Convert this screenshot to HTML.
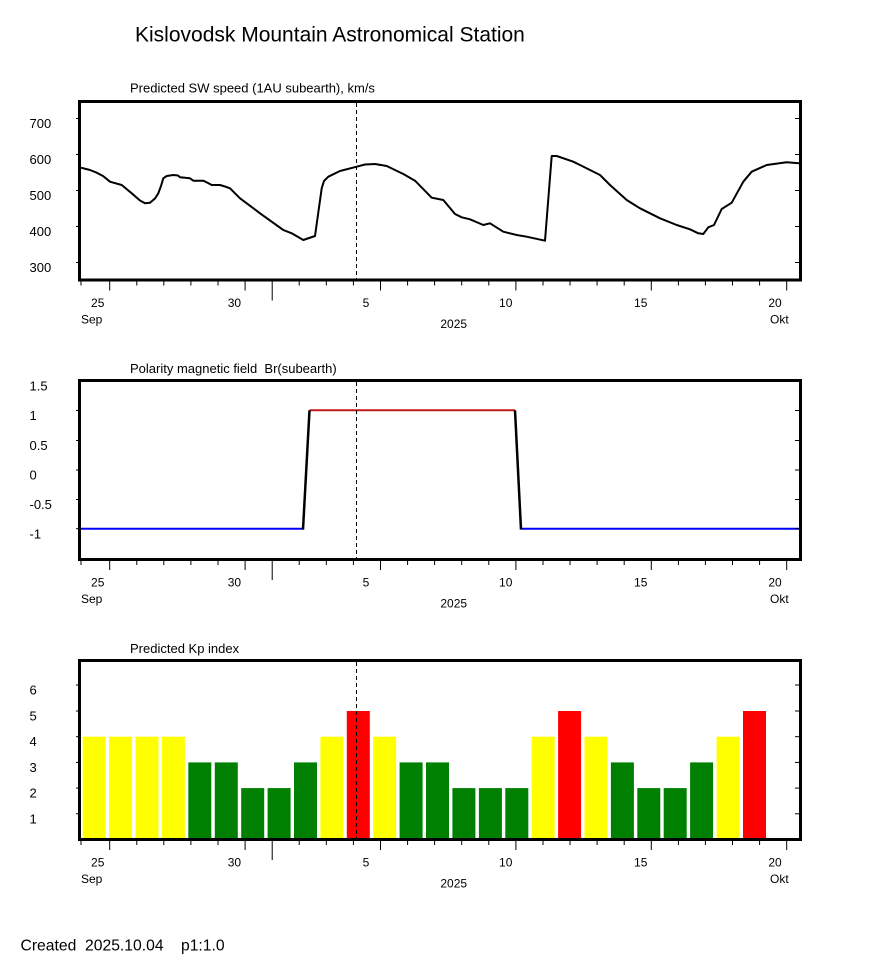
<!DOCTYPE html>
<html>
<head>
<meta charset="utf-8">
<style>
  html,body{margin:0;padding:0;background:#fff;}
  svg{display:block;}
  text{font-family:"Liberation Sans",Arial,sans-serif;fill:#000;}
</style>
</head>
<body>
<svg width="870" height="965" viewBox="0 0 870 965" xmlns="http://www.w3.org/2000/svg">
  <rect x="0" y="0" width="870" height="965" fill="#fff"/>

  <!-- Title -->
  <text x="135" y="41.5" font-size="21">Kislovodsk Mountain Astronomical Station</text>

  <!-- ================= PANEL 1 ================= -->
  <text x="130" y="92.5" font-size="13">Predicted SW speed (1AU subearth), km/s</text>
  <defs>
    <clipPath id="c1"><rect x="81" y="103" width="718" height="175.5"/></clipPath>
  </defs>
  <polyline clip-path="url(#c1)" fill="none" stroke="#000" stroke-width="2" stroke-linejoin="round" points="
    81,167.7 90,170 96.7,172.7 103,176 110,181.7 121.7,185 131.7,193.3 140,200.5 145,203.3 150,202.7 155,198.5
    158.3,193.3 161,186 163.3,178.3 166.7,176 173.3,175 178,175.5 180,177.3 190,178.3 193.3,180.7 203.3,180.7
    208,183 211.7,185 220,185 225,186.5 230,188.3 240,198.3 260,213.3 283.3,230 291.7,233.3 303.3,240 315,236
    321.7,188.3 324,181 328.3,176.7 340,171 356.7,166.7 365,164.5 375,164 386.7,166 403.3,174 415,180.7
    431.7,197.7 443.3,200 455,214 461.7,217.3 470,219.3 483.3,225 490,223.3 503.3,231.7 516.7,235 526.7,236.7
    545,240.7 551.7,156 556.7,156 573.3,161.7 580,165 600,175 610,185 626.7,200 640,208.3 660,218.3 676.7,225
    690,229.3 698.3,233.3 703.3,234 708.3,227.3 714,225 721.7,209 731.7,202.7 743.3,181.7 751.7,171.7
    766.7,165 786.7,162.3 800,163.3"/>
  <line x1="356.5" y1="103" x2="356.5" y2="278.5" stroke="#000" stroke-width="1" stroke-dasharray="4,3"/>
  <rect x="79.5" y="101.5" width="721" height="178.5" fill="none" stroke="#000" stroke-width="3"/>
  <!-- y ticks -->
  <g stroke="#000" stroke-width="1">
    <line x1="76" y1="118.5" x2="79" y2="118.5"/><line x1="795" y1="118.5" x2="799" y2="118.5"/>
    <line x1="76" y1="154.5" x2="79" y2="154.5"/><line x1="795" y1="154.5" x2="799" y2="154.5"/>
    <line x1="76" y1="190.5" x2="79" y2="190.5"/><line x1="795" y1="190.5" x2="799" y2="190.5"/>
    <line x1="76" y1="226.5" x2="79" y2="226.5"/><line x1="795" y1="226.5" x2="799" y2="226.5"/>
    <line x1="76" y1="262.5" x2="79" y2="262.5"/><line x1="795" y1="262.5" x2="799" y2="262.5"/>
  </g>
  <g font-size="13">
    <text x="29.5" y="128">700</text>
    <text x="29.5" y="164">600</text>
    <text x="29.5" y="200">500</text>
    <text x="29.5" y="236">400</text>
    <text x="29.5" y="272">300</text>
  </g>
  <g id="xt1" stroke="#000" stroke-width="1">
    <line x1="81" y1="281.5" x2="81" y2="285.5"/>
    <line x1="109.7" y1="281.5" x2="109.7" y2="290.5"/>
    <line x1="136.8" y1="281.5" x2="136.8" y2="285.5"/>
    <line x1="163.8" y1="281.5" x2="163.8" y2="285.5"/>
    <line x1="190.9" y1="281.5" x2="190.9" y2="285.5"/>
    <line x1="218" y1="281.5" x2="218" y2="285.5"/>
    <line x1="245.1" y1="281.5" x2="245.1" y2="290.5"/>
    <line x1="272.2" y1="281.5" x2="272.2" y2="300.5"/>
    <line x1="299.2" y1="281.5" x2="299.2" y2="285.5"/>
    <line x1="326.3" y1="281.5" x2="326.3" y2="285.5"/>
    <line x1="353.4" y1="281.5" x2="353.4" y2="285.5"/>
    <line x1="380.5" y1="281.5" x2="380.5" y2="290.5"/>
    <line x1="407.6" y1="281.5" x2="407.6" y2="285.5"/>
    <line x1="434.6" y1="281.5" x2="434.6" y2="285.5"/>
    <line x1="461.7" y1="281.5" x2="461.7" y2="285.5"/>
    <line x1="488.8" y1="281.5" x2="488.8" y2="285.5"/>
    <line x1="515.9" y1="281.5" x2="515.9" y2="290.5"/>
    <line x1="543" y1="281.5" x2="543" y2="285.5"/>
    <line x1="570" y1="281.5" x2="570" y2="285.5"/>
    <line x1="597.1" y1="281.5" x2="597.1" y2="285.5"/>
    <line x1="624.2" y1="281.5" x2="624.2" y2="285.5"/>
    <line x1="651.3" y1="281.5" x2="651.3" y2="290.5"/>
    <line x1="678.4" y1="281.5" x2="678.4" y2="285.5"/>
    <line x1="705.4" y1="281.5" x2="705.4" y2="285.5"/>
    <line x1="732.5" y1="281.5" x2="732.5" y2="285.5"/>
    <line x1="759.6" y1="281.5" x2="759.6" y2="285.5"/>
    <line x1="786.7" y1="281.5" x2="786.7" y2="290.5"/>
  </g>
  <g font-size="12" text-anchor="middle">
    <text x="97.7" y="307">25</text>
    <text x="234.4" y="307">30</text>
    <text x="366" y="307">5</text>
    <text x="505.7" y="307">10</text>
    <text x="640.7" y="307">15</text>
    <text x="775" y="307">20</text>
    <text x="453.7" y="327.8">2025</text>
  </g>
  <text x="81" y="323.5" font-size="12">Sep</text>
  <text x="770" y="323.5" font-size="12">Okt</text>

  <!-- ================= PANEL 2 ================= -->
  <text x="130" y="373" font-size="13" xml:space="preserve">Polarity magnetic field  Br(subearth)</text>
  <line x1="81" y1="528.7" x2="304" y2="528.7" stroke="#0000ff" stroke-width="2"/>
  <line x1="521" y1="528.7" x2="799" y2="528.7" stroke="#0000ff" stroke-width="2"/>
  <line x1="309.5" y1="410.3" x2="515" y2="410.3" stroke="#c01818" stroke-width="2"/>
  <polyline points="303,529.5 309.5,410.3" fill="none" stroke="#000" stroke-width="2.5"/>
  <polyline points="515,410.3 521,529.5" fill="none" stroke="#000" stroke-width="2.5"/>
  <line x1="356.5" y1="382" x2="356.5" y2="558" stroke="#000" stroke-width="1" stroke-dasharray="4,3"/>
  <rect x="79.5" y="380.5" width="721" height="179" fill="none" stroke="#000" stroke-width="3"/>
  <g stroke="#000" stroke-width="1">
    <line x1="76" y1="410.5" x2="79" y2="410.5"/><line x1="795" y1="410.5" x2="799" y2="410.5"/>
    <line x1="76" y1="440.5" x2="79" y2="440.5"/><line x1="795" y1="440.5" x2="799" y2="440.5"/>
    <line x1="76" y1="470" x2="79" y2="470"/><line x1="795" y1="470" x2="799" y2="470"/>
    <line x1="76" y1="499.5" x2="79" y2="499.5"/><line x1="795" y1="499.5" x2="799" y2="499.5"/>
    <line x1="76" y1="528.7" x2="79" y2="528.7"/><line x1="795" y1="528.7" x2="799" y2="528.7"/>
  </g>
  <g font-size="13">
    <text x="29.5" y="390.5">1.5</text>
    <text x="29.5" y="420">1</text>
    <text x="29.5" y="450">0.5</text>
    <text x="29.5" y="479.5">0</text>
    <text x="29.5" y="509">-0.5</text>
    <text x="29.5" y="538.5">-1</text>
  </g>
  <use href="#xt1" transform="translate(0,279.5)"/>
  <g font-size="12" text-anchor="middle">
    <text x="97.7" y="586.5">25</text>
    <text x="234.4" y="586.5">30</text>
    <text x="366" y="586.5">5</text>
    <text x="505.7" y="586.5">10</text>
    <text x="640.7" y="586.5">15</text>
    <text x="775" y="586.5">20</text>
    <text x="453.7" y="607.3">2025</text>
  </g>
  <text x="81" y="603" font-size="12">Sep</text>
  <text x="770" y="603" font-size="12">Okt</text>

  <!-- ================= PANEL 3 ================= -->
  <text x="130" y="653" font-size="13">Predicted Kp index</text>
  <g>
    <rect x="82.7"  y="736.7" width="23" height="101.8" fill="#ffff00"/>
    <rect x="109.1" y="736.7" width="23" height="101.8" fill="#ffff00"/>
    <rect x="135.5" y="736.7" width="23" height="101.8" fill="#ffff00"/>
    <rect x="161.9" y="736.7" width="23" height="101.8" fill="#ffff00"/>
    <rect x="188.3" y="762.4" width="23" height="76.1" fill="#008000"/>
    <rect x="214.8" y="762.4" width="23" height="76.1" fill="#008000"/>
    <rect x="241.2" y="788.1" width="23" height="50.4" fill="#008000"/>
    <rect x="267.6" y="788.1" width="23" height="50.4" fill="#008000"/>
    <rect x="294"   y="762.4" width="23" height="76.1" fill="#008000"/>
    <rect x="320.4" y="736.7" width="23" height="101.8" fill="#ffff00"/>
    <rect x="346.8" y="711"   width="23" height="127.5" fill="#ff0000"/>
    <rect x="373.2" y="736.7" width="23" height="101.8" fill="#ffff00"/>
    <rect x="399.6" y="762.4" width="23" height="76.1" fill="#008000"/>
    <rect x="426"   y="762.4" width="23" height="76.1" fill="#008000"/>
    <rect x="452.4" y="788.1" width="23" height="50.4" fill="#008000"/>
    <rect x="478.9" y="788.1" width="23" height="50.4" fill="#008000"/>
    <rect x="505.3" y="788.1" width="23" height="50.4" fill="#008000"/>
    <rect x="531.7" y="736.7" width="23" height="101.8" fill="#ffff00"/>
    <rect x="558.1" y="711"   width="23" height="127.5" fill="#ff0000"/>
    <rect x="584.5" y="736.7" width="23" height="101.8" fill="#ffff00"/>
    <rect x="610.9" y="762.4" width="23" height="76.1" fill="#008000"/>
    <rect x="637.3" y="788.1" width="23" height="50.4" fill="#008000"/>
    <rect x="663.7" y="788.1" width="23" height="50.4" fill="#008000"/>
    <rect x="690.1" y="762.4" width="23" height="76.1" fill="#008000"/>
    <rect x="716.6" y="736.7" width="23" height="101.8" fill="#ffff00"/>
    <rect x="743"   y="711"   width="23" height="127.5" fill="#ff0000"/>
  </g>
  <line x1="356.5" y1="662" x2="356.5" y2="838" stroke="#000" stroke-width="1" stroke-dasharray="4,3"/>
  <rect x="79.5" y="660.5" width="721" height="179" fill="none" stroke="#000" stroke-width="3"/>
  <g stroke="#000" stroke-width="1">
    <line x1="76" y1="685" x2="79" y2="685"/><line x1="795" y1="685" x2="799" y2="685"/>
    <line x1="76" y1="711" x2="79" y2="711"/><line x1="795" y1="711" x2="799" y2="711"/>
    <line x1="76" y1="736.7" x2="79" y2="736.7"/><line x1="795" y1="736.7" x2="799" y2="736.7"/>
    <line x1="76" y1="762.4" x2="79" y2="762.4"/><line x1="795" y1="762.4" x2="799" y2="762.4"/>
    <line x1="76" y1="788.1" x2="79" y2="788.1"/><line x1="795" y1="788.1" x2="799" y2="788.1"/>
    <line x1="76" y1="813.8" x2="79" y2="813.8"/><line x1="795" y1="813.8" x2="799" y2="813.8"/>
  </g>
  <g font-size="13">
    <text x="29.5" y="694.5">6</text>
    <text x="29.5" y="720.5">5</text>
    <text x="29.5" y="746.2">4</text>
    <text x="29.5" y="771.9">3</text>
    <text x="29.5" y="797.6">2</text>
    <text x="29.5" y="823.3">1</text>
  </g>
  <use href="#xt1" transform="translate(0,559.5)"/>
  <g font-size="12" text-anchor="middle">
    <text x="97.7" y="866.5">25</text>
    <text x="234.4" y="866.5">30</text>
    <text x="366" y="866.5">5</text>
    <text x="505.7" y="866.5">10</text>
    <text x="640.7" y="866.5">15</text>
    <text x="775" y="866.5">20</text>
    <text x="453.7" y="887.3">2025</text>
  </g>
  <text x="81" y="883" font-size="12">Sep</text>
  <text x="770" y="883" font-size="12">Okt</text>

  <!-- Footer -->
  <text x="20.5" y="950.5" font-size="15.7" xml:space="preserve">Created  2025.10.04    p1:1.0</text>
</svg>
</body>
</html>
